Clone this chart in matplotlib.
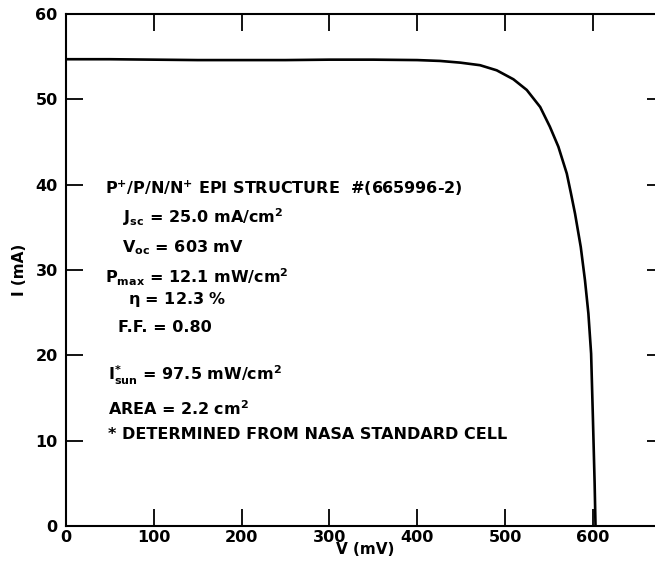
import matplotlib
matplotlib.use("Agg")
import matplotlib.pyplot as plt

# I-V curve (mV, mA)
voltage_mv = [0, 50, 100, 150, 200, 250, 300, 350, 400, 426, 449, 471.5,
              490.5, 509.5, 524.7, 540, 551, 560.7, 570.3, 575, 579.7, 586.2,
              591, 594.9, 598, 600, 602, 603]
current_ma = [54.7, 54.7, 54.65, 54.6, 54.6, 54.6, 54.65, 54.65, 54.6, 54.5,
              54.3, 54.0, 53.4, 52.35, 51.1, 49.1, 46.8, 44.45, 41.3, 39.0,
              36.6, 32.7, 28.8, 24.9, 20.2, 12.8, 5.0, 0.0]

x_ticks = [0, 100, 200, 300, 400, 500, 600]
y_ticks = [0, 10, 20, 30, 40, 50, 60]

# annotation block: (V, I, text)
notes = [
    (44, 39.6, r"P$^{+}$/P/N/N$^{+}$ EPI STRUCTURE  #(665996-2)"),
    (65, 36.2, r"J$_{sc}$ = 25.0 mA/cm$^{2}$"),
    (64, 32.6, r"V$_{oc}$ = 603 mV"),
    (44.5, 29.2, r"P$_{max}$ = 12.1 mW/cm$^{2}$"),
    (71, 26.5, r"$\eta$ = 12.3 %"),
    (59, 23.3, r"F.F. = 0.80"),
    (48, 17.7, r"I$^{*}_{sun}$ = 97.5 mW/cm$^{2}$"),
    (48, 13.8, r"AREA = 2.2 cm$^{2}$"),
    (48, 10.7, r"* DETERMINED FROM NASA STANDARD CELL"),
]

plt.rcParams["font.family"] = "DejaVu Sans"
plt.rcParams["mathtext.fontset"] = "dejavusans"
plt.rcParams["mathtext.default"] = "bf"

fig = plt.figure(figsize=(6.55, 5.68), dpi=100)
ax = fig.add_axes([66 / 655, 42 / 568, 598 / 655, 512 / 568])

ax.plot(voltage_mv, current_ma, color="black", lw=1.9,
        solid_joinstyle="round")

ax.set_xlim(0, 681)
ax.set_ylim(0, 60)
ax.set_xticks(x_ticks)
ax.set_yticks(y_ticks)
ax.tick_params(direction="in", length=12, width=1.3, top=True, right=True,
               labelsize=11.5)
ax.tick_params(axis="x", pad=3)
ax.tick_params(axis="y", pad=6)
for lab in ax.get_xticklabels() + ax.get_yticklabels():
    lab.set_fontweight("bold")
for sp in ax.spines.values():
    sp.set_linewidth(1.5)

ax.set_xlabel("V (mV)", fontsize=11, fontweight="bold", labelpad=-2)
ax.set_ylabel("I (mA)", fontsize=11, fontweight="bold", labelpad=6)

for v, i, t in notes:
    ax.text(v, i, t, fontsize=11.5, fontweight="bold", ha="left", va="center")

fig.savefig("out.png", dpi=100)
